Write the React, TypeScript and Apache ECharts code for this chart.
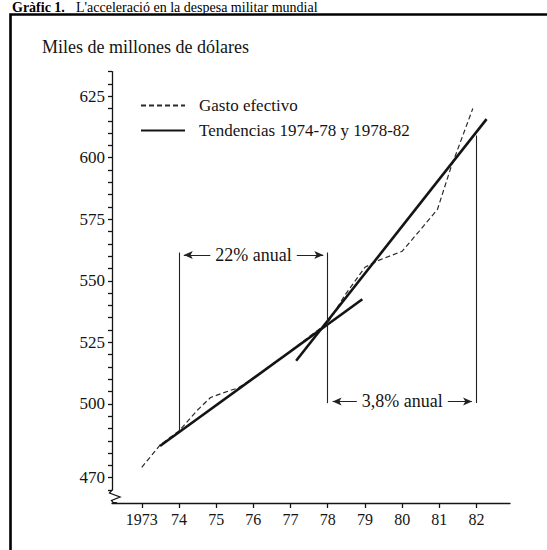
import React, { useEffect, useRef } from "react";
import * as echarts from "echarts";

// Gasto efectivo (dashed)
const gastoYears = [1973.0, 1973.5, 1974.0, 1974.5, 1974.85, 1975.35, 1975.6, 1976.0, 1977.0, 1978.0, 1978.5, 1979.0, 1979.4, 1980.0, 1980.45, 1980.95, 1981.3, 1981.9];
const gastoValues = [474.2, 483.4, 489, 497.5, 502.6, 505.3, 506.5, 510.5, 521.5, 533, 545, 555.5, 558.5, 562, 570, 579, 595.5, 620];

// Tendencias (solid)
const trend1Years = [1973.49, 1978.93];
const trend1Values = [482.9, 542.5];
const trend2Years = [1977.15, 1982.27];
const trend2Values = [517.5, 615.7];

// vertical guide lines
const vLineYears = [1974, 1978, 1982];
const vLineTops = [561.5, 561.5, 609];
const vLineBottoms = [489, 500.3, 500.3];

// arrow annotations
const arrowLabels = ["22% anual", "3,8% anual"];
const arrowFrom = [1974.13, 1978.13];
const arrowTo = [1977.88, 1981.88];
const arrowValues = [560.5, 501];

// axes
const X_MIN = 1972.2;
const X_MAX = 1982.9;
const Y_MIN = 465;
const Y_MAX = 635;
const Y_TICK_STEP = 5;
const xTickYears = [1973, 1974, 1975, 1976, 1977, 1978, 1979, 1980, 1981, 1982];
const xTickLabels = ["1973", "74", "75", "76", "77", "78", "79", "80", "81", "82"];
const yMajor = [470, 500, 525, 550, 575, 600, 625];

const titleBold = "Gràfic 1.";
const titleRest = "L'acceleració en la despesa militar mundial";
const yAxisTitle = "Miles de millones de dólares";
const gastoName = "Gasto efectivo";
const trendName = "Tendencias 1974-78 y 1978-82";

const FONT = "Liberation Serif";
const INK = "#141414";

export default function App() {
  const ref = useRef<HTMLDivElement>(null);
  useEffect(() => {
    document.body.style.margin = "0";
    const chart = echarts.init(ref.current!, undefined, { renderer: "svg" });
    const zip = (xs: number[], ys: number[]) => xs.map((x, i) => [x, ys[i]]);
    chart.setOption({
      animation: false,
      backgroundColor: "#ffffff",
      grid: { left: 112, right: 37, top: 71.6, bottom: 60, containLabel: false },
      legend: {
        data: [gastoName, trendName],
        orient: "vertical",
        left: 135,
        top: 92,
        itemWidth: 44,
        itemHeight: 14,
        itemGap: 8,
        selectedMode: false,
        itemStyle: { opacity: 0 },
        textStyle: { fontFamily: FONT, fontSize: 17, color: INK, padding: [0, 0, 0, 9] },
      },
      xAxis: {
        type: "value",
        min: X_MIN,
        max: X_MAX,
        offset: 13,
        axisLine: { show: true, lineStyle: { color: INK, width: 1.3 } },
        axisTick: { show: true, customValues: xTickYears, length: 5, lineStyle: { color: INK, width: 1.3 } },
        axisLabel: {
          customValues: xTickYears,
          formatter: (v: number) => xTickLabels[xTickYears.indexOf(Math.round(v))] ?? "",
          fontFamily: FONT,
          fontSize: 16,
          color: INK,
          margin: 8,
        },
        splitLine: { show: false },
      },
      yAxis: {
        type: "value",
        min: Y_MIN,
        max: Y_MAX,
        interval: Y_TICK_STEP,
        position: "left",
        axisLine: { show: true, lineStyle: { color: INK, width: 1.3 } },
        axisTick: { show: true, length: 4, lineStyle: { color: INK, width: 1.3 } },
        axisLabel: { customValues: yMajor, fontFamily: FONT, fontSize: 17, color: INK, margin: 7 },
        splitLine: { show: false },
      },
      series: [
        {
          name: gastoName,
          type: "line",
          data: zip(gastoYears, gastoValues),
          symbol: "none",
          smooth: false,
          itemStyle: { color: "#2a2a2a" },
          lineStyle: { type: [5, 3], width: 1.2, color: "#2a2a2a" },
          z: 2,
        },
        {
          name: trendName,
          type: "line",
          data: zip(trend1Years, trend1Values),
          symbol: "none",
          itemStyle: { color: INK },
          lineStyle: { width: 2.6, color: INK },
          z: 3,
          markLine: {
            silent: true,
            symbol: ["none", "none"],
            label: { show: false },
            lineStyle: { type: "solid", color: "#222", width: 1.1 },
            data: vLineYears.map((yr, i) => [
              { coord: [yr, vLineBottoms[i]] },
              { coord: [yr, vLineTops[i]] },
            ]),
          },
        },
        {
          name: trendName,
          type: "line",
          data: zip(trend2Years, trend2Values),
          symbol: "none",
          itemStyle: { color: INK },
          lineStyle: { width: 2.6, color: INK },
          z: 3,
          markLine: {
            silent: true,
            symbol: ["arrow", "arrow"],
            symbolSize: [6, 9],
            lineStyle: { type: "solid", color: "#222", width: 1.1 },
            label: {
              show: true,
              position: "middle",
              distance: 0,
              verticalAlign: "middle",
              backgroundColor: "#ffffff",
              padding: [0, 5],
              fontFamily: FONT,
              fontSize: 18,
              color: INK,
            },
            data: arrowLabels.map((t, i) => [
              { coord: [arrowFrom[i], arrowValues[i]], name: t, label: { formatter: t } },
              { coord: [arrowTo[i], arrowValues[i]] },
            ]),
          },
        },
      ],
      graphic: [
        {
          type: "rect",
          shape: { x: 10.5, y: 14.5, width: 620, height: 620 },
          style: { fill: "none", stroke: "#000", lineWidth: 2.6 },
          silent: true,
        },
        {
          type: "text",
          x: 12,
          y: 7,
          style: { text: titleBold, font: `bold 14px '${FONT}'`, fill: "#000", verticalAlign: "middle", align: "left" },
          silent: true,
        },
        {
          type: "text",
          x: 76,
          y: 7,
          style: { text: titleRest, font: `14px '${FONT}'`, fill: "#000", verticalAlign: "middle", align: "left" },
          silent: true,
        },
        {
          type: "text",
          x: 42,
          y: 47,
          style: { text: yAxisTitle, font: `18px '${FONT}'`, fill: INK, verticalAlign: "middle", align: "left" },
          silent: true,
        },
        {
          type: "polyline",
          shape: { points: [[112, 490], [109.5, 493], [120, 497], [111.5, 500.5], [113, 502.5], [117, 503]] },
          style: { fill: "none", stroke: INK, lineWidth: 1.3 },
          silent: true,
        },
      ],
    });
    return () => chart.dispose();
  }, []);
  return <div ref={ref} style={{ position: "fixed", left: 0, top: 0, width: 547, height: 550 }} />;
}
